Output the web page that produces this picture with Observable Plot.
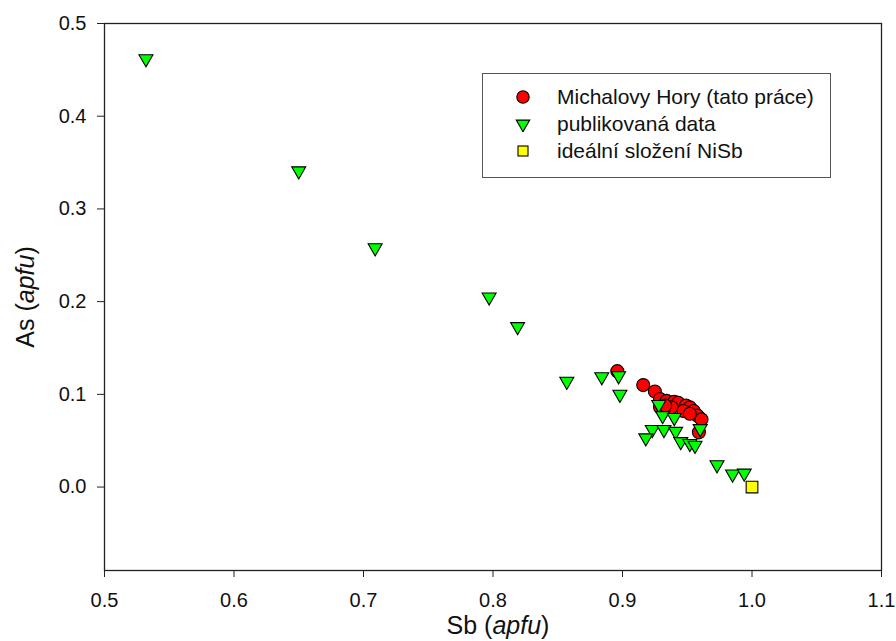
<!DOCTYPE html>
<html>
<head>
<meta charset="utf-8">
<script src="https://cdn.jsdelivr.net/npm/d3@7"></script>
<script src="https://cdn.jsdelivr.net/npm/@observablehq/plot@0.6"></script>
<style>
  html, body { margin: 0; padding: 0; background: #fff; }
  #wrap { position: relative; width: 896px; height: 641px; font-family: "Liberation Sans", Arial, sans-serif; }
  #legend { position: absolute; left: 482px; top: 73px; width: 349px; height: 105px; border: 1.5px solid #555; background: #fff; box-sizing: border-box; }
  .row { position: absolute; left: 0; height: 22px; display: flex; align-items: center; font-size: 21px; color: #111; white-space: nowrap; }
  .row svg { margin-left: 32px; margin-right: 26px; flex: none; }
  #wrap svg g[aria-label*="tick label"] text { font-size: 20px !important; }
</style>
</head>
<body>
<div id="wrap"></div>
<script>
// Michalovy Hory (tato práce)
const mhSb = [0.896, 0.916, 0.925, 0.929, 0.934, 0.940, 0.943, 0.949, 0.952, 0.938, 0.929, 0.947, 0.955, 0.958, 0.961, 0.959, 0.952, 0.933];
const mhAs = [0.125, 0.110, 0.103, 0.095, 0.093, 0.092, 0.091, 0.088, 0.086, 0.086, 0.086, 0.082, 0.082, 0.077, 0.073, 0.059, 0.079, 0.088];
// publikovaná data
const pubSb = [0.532, 0.650, 0.709, 0.797, 0.819, 0.857, 0.884, 0.897, 0.898, 0.928, 0.931, 0.940, 0.923, 0.932, 0.941, 0.918, 0.945, 0.952, 0.956, 0.960, 0.973, 0.985, 0.994];
const pubAs = [0.462, 0.341, 0.258, 0.205, 0.173, 0.114, 0.119, 0.120, 0.100, 0.089, 0.077, 0.075, 0.062, 0.062, 0.060, 0.053, 0.049, 0.047, 0.045, 0.063, 0.024, 0.014, 0.015];
// ideální složení NiSb
const idealSb = [1.0];
const idealAs = [0.0];

const xTicks = [0.5, 0.6, 0.7, 0.8, 0.9, 1.0, 1.1];
const yTicks = [0.0, 0.1, 0.2, 0.3, 0.4, 0.5];
const legendLabels = ["Michalovy Hory (tato práce)", "publikovaná data", "ideální složení NiSb"];

const mh = mhSb.map((s, i) => ({Sb: s, As: mhAs[i]}));
const pub = pubSb.map((s, i) => ({Sb: s, As: pubAs[i]}));
const ideal = idealSb.map((s, i) => ({Sb: s, As: idealAs[i]}));

const chart = Plot.plot({
  width: 896,
  height: 641,
  marginLeft: 104,
  marginRight: 15,
  marginTop: 23,
  marginBottom: 71,
  style: {fontFamily: "Liberation Sans, Arial, sans-serif", fontSize: "20px", color: "#111", background: "#fff"},
  x: {domain: [0.5, 1.1]},
  y: {domain: [-0.09, 0.5]},
  marks: [
    Plot.frame({stroke: "#222", strokeWidth: 1.3}),
    Plot.axisX({ticks: xTicks, tickFormat: d3.format(".1f"), tickSize: 7, tickPadding: 15, label: null, fontSize: 20, stroke: "#222", fill: "#111"}),
    Plot.axisY({ticks: yTicks, tickFormat: d3.format(".1f"), tickSize: 7, tickPadding: 11, label: null, fontSize: 20, stroke: "#222", fill: "#111"}),
    Plot.dot(mh, {x: "Sb", y: "As", r: 6.5, fill: "#ff0000", stroke: "#000", strokeWidth: 1.1, symbol: "circle"}),
    Plot.dot(pub, {x: "Sb", y: "As", r: 5.2, fill: "#00ff00", stroke: "#000", strokeWidth: 1.1, symbol: "triangle", rotate: 180}),
    Plot.dot(ideal, {x: "Sb", y: "As", r: 6.6, fill: "#ffff00", stroke: "#000", strokeWidth: 1.1, symbol: "square"})
  ]
});

document.getElementById("wrap").appendChild(chart);

const svg = d3.select(chart);

// Axis titles with italic "apfu"
const xt = svg.append("text")
  .attr("x", 498).attr("y", 634)
  .attr("text-anchor", "middle")
  .attr("font-size", 25).attr("fill", "#111")
  .attr("font-family", "Liberation Sans, Arial, sans-serif");
xt.append("tspan").text("Sb (");
xt.append("tspan").attr("font-style", "italic").text("apfu");
xt.append("tspan").text(")");

const yt = svg.append("text")
  .attr("transform", "translate(34,297) rotate(-90)")
  .attr("text-anchor", "middle")
  .attr("font-size", 25).attr("fill", "#111")
  .attr("font-family", "Liberation Sans, Arial, sans-serif");
yt.append("tspan").text("As (");
yt.append("tspan").attr("font-style", "italic").text("apfu");
yt.append("tspan").text(")");

// Legend
const legend = document.createElement("div");
legend.id = "legend";
const syms = [
  '<svg width="16" height="16" viewBox="-8 -8 16 16"><circle r="6.2" fill="#ff0000" stroke="#000" stroke-width="1.1"/></svg>',
  '<svg width="16" height="16" viewBox="-8 -8 16 16"><path d="' + d3.symbol(d3.symbolTriangle, Math.PI * 5.0 * 5.0)() + '" transform="rotate(180)" fill="#00ff00" stroke="#000" stroke-width="1.1"/></svg>',
  '<svg width="16" height="16" viewBox="-8 -8 16 16"><rect x="-5" y="-5" width="10" height="10" fill="#ffff00" stroke="#000" stroke-width="1.1"/></svg>'
];
legendLabels.forEach((lab, i) => {
  const row = document.createElement("div");
  row.className = "row";
  row.style.top = (12 + i * 27) + "px";
  row.innerHTML = syms[i] + "<span>" + lab + "</span>";
  legend.appendChild(row);
});
document.getElementById("wrap").appendChild(legend);
</script>
</body>
</html>
